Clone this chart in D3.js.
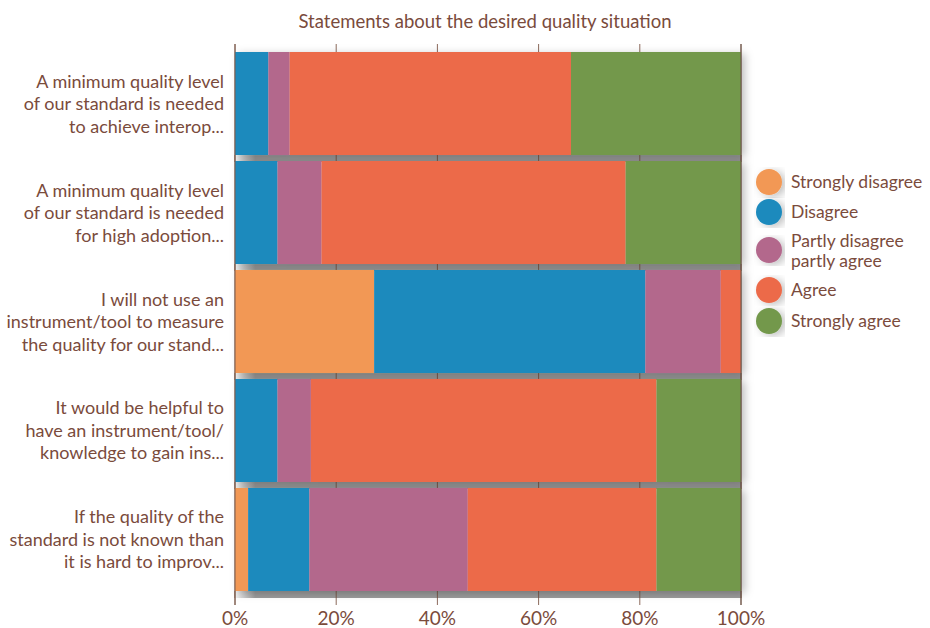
<!DOCTYPE html>
<html>
<head>
<meta charset="utf-8">
<script src="https://cdn.jsdelivr.net/npm/d3@7"></script>
<style>
	body { margin: 0; background: #fff; }
	text { font-family: Lato, "Open Sans", sans-serif; fill: #7a4b3c; }
</style>
</head>
<body>
<div id="chart"></div>
<script>
// statements (already wrapped in lines)
var categories = [
	["A minimum quality level", "of our standard is needed", "to achieve interop..."],
	["A minimum quality level", "of our standard is needed", "for high adoption..."],
	["I will not use an", "instrument/tool to measure", "the quality for our stand..."],
	["It would be helpful to", "have an instrument/tool/", "knowledge to gain ins..."],
	["If the quality of the", "standard is not known than", "it is hard to improv..."]
];

var seriesNames = ["Strongly disagree", "Disagree", "Partly disagree partly agree", "Agree", "Strongly agree"];
var seriesColors = ["#f29854", "#1b8abd", "#b3678c", "#ec6a4a", "#73984c"];

// percentages per statement
var stronglyDisagree = [0, 0, 27.5, 0, 2.6];
var disagree = [6.6, 8.4, 53.6, 8.4, 12.1];
var partly = [4.2, 8.7, 14.9, 6.6, 31.3];
var agree = [55.6, 60.1, 4.0, 68.3, 37.3];
var stronglyAgree = [33.6, 22.8, 0, 16.7, 16.7];

var xTicks = [0, 20, 40, 60, 80, 100];

var svgWidth = 930;
var svgHeight = 628;

var svg = d3.select("#chart")
	.append("svg")
	.attr("width", svgWidth)
	.attr("height", svgHeight);

var defs = svg.append("defs");

var shadow = defs.append("filter")
	.attr("id", "shadow")
	.attr("x", "-5%").attr("y", "-5%")
	.attr("width", "115%").attr("height", "115%");
shadow.append("feDropShadow")
	.attr("dx", 4).attr("dy", 2)
	.attr("stdDeviation", 4)
	.attr("flood-color", "#000")
	.attr("flood-opacity", 0.25);

var gapGrad = defs.append("linearGradient")
	.attr("id", "gapGrad")
	.attr("x1", "0").attr("x2", "1").attr("y1", "0").attr("y2", "0");
gapGrad.append("stop").attr("offset", "0").attr("stop-color", "#f2f2f2");
gapGrad.append("stop").attr("offset", "0.04").attr("stop-color", "#9a9a9a");
gapGrad.append("stop").attr("offset", "1").attr("stop-color", "#9a9a9a");

// scales
var x = d3.scaleLinear()
	.domain([0, 100])
	.range([235, 741]);

var y = d3.scaleBand()
	.domain(d3.range(categories.length))
	.range([52, 591])
	.paddingInner(0.055)
	.paddingOuter(0);

// build stacked data
var table = categories.map((c, i) => ({
	idx: i,
	s0: stronglyDisagree[i],
	s1: disagree[i],
	s2: partly[i],
	s3: agree[i],
	s4: stronglyAgree[i]
}));
var stack = d3.stack().keys(["s0", "s1", "s2", "s3", "s4"]);
var series = stack(table);

// title
svg.append("text")
	.attr("x", 485)
	.attr("y", 28)
	.attr("text-anchor", "middle")
	.attr("font-size", 18.5)
	.text("Statements about the desired quality situation");

// gridlines (visible only in the gaps)
svg.append("g")
	.selectAll("line")
	.data(xTicks)
	.enter()
	.append("line")
	.attr("x1", d => x(d))
	.attr("x2", d => x(d))
	.attr("y1", 44)
	.attr("y2", 605)
	.attr("stroke", "#8c6a5c")
	.attr("stroke-width", 1);

// gray shadow strips under each bar
svg.append("g")
	.selectAll("rect")
	.data(table)
	.enter()
	.append("rect")
	.attr("x", x(0))
	.attr("width", x(100) - x(0))
	.attr("y", d => y(d.idx) + y.bandwidth())
	.attr("height", 7)
	.attr("fill", "url(#gapGrad)");

// redraw the grid ticks over the gaps
svg.append("g")
	.selectAll("g")
	.data(table)
	.enter()
	.append("g")
	.selectAll("line")
	.data(d => xTicks.map(t => ({ t: t, idx: d.idx })))
	.enter()
	.append("line")
	.attr("x1", d => x(d.t))
	.attr("x2", d => x(d.t))
	.attr("y1", d => y(d.idx) + y.bandwidth())
	.attr("y2", d => y(d.idx) + y.bandwidth() + 7)
	.attr("stroke", "#7a5a4c")
	.attr("stroke-width", 1);

// bars
var barsGroup = svg.append("g")
	.attr("filter", "url(#shadow)");

barsGroup.selectAll("g")
	.data(series)
	.enter()
	.append("g")
	.attr("fill", (d, i) => seriesColors[i])
	.selectAll("rect")
	.data(d => d)
	.enter()
	.append("rect")
	.attr("x", d => x(d[0]))
	.attr("width", d => x(d[1]) - x(d[0]))
	.attr("y", d => y(d.data.idx))
	.attr("height", y.bandwidth());

// left axis line and right border
svg.append("line")
	.attr("x1", x(0)).attr("x2", x(0))
	.attr("y1", 44).attr("y2", 605)
	.attr("stroke", "#7a5a4c");
svg.append("line")
	.attr("x1", x(100)).attr("x2", x(100))
	.attr("y1", 44).attr("y2", 605)
	.attr("stroke", "#6b5448");

// x axis labels
svg.append("g")
	.selectAll("text")
	.data(xTicks)
	.enter()
	.append("text")
	.attr("x", d => x(d))
	.attr("y", 625)
	.attr("text-anchor", "middle")
	.attr("font-size", 19)
	.text(d => d + "%");

// category labels
var catLabels = svg.append("g")
	.selectAll("text")
	.data(categories)
	.enter()
	.append("text")
	.attr("text-anchor", "end")
	.attr("font-size", 18)
	.attr("y", (d, i) => y(i) + y.bandwidth() / 2 - 16);

catLabels.selectAll("tspan")
	.data(d => d)
	.enter()
	.append("tspan")
	.attr("x", 224)
	.attr("dy", (d, i) => i === 0 ? 0 : 22.5)
	.text(d => d);

// legend
var legendLines = [["Strongly disagree"], ["Disagree"], ["Partly disagree", "partly agree"], ["Agree"], ["Strongly agree"]];
var legendY = [182, 212, 250, 290, 321];

var legend = svg.append("g")
	.selectAll("g")
	.data(seriesNames)
	.enter()
	.append("g")
	.attr("transform", (d, i) => `translate(769, ${legendY[i]})`);

legend.append("circle")
	.attr("r", 13)
	.attr("fill", (d, i) => seriesColors[i])
	.attr("filter", "url(#shadow)");

var legendText = legend.append("text")
	.attr("x", 22)
	.attr("font-size", 17.5)
	.attr("y", (d, i) => legendLines[i].length > 1 ? -3 : 6);

legendText.selectAll("tspan")
	.data((d, i) => legendLines[i])
	.enter()
	.append("tspan")
	.attr("x", 22)
	.attr("dy", (d, i) => i === 0 ? 0 : 20)
	.text(d => d);
</script>
</body>
</html>
